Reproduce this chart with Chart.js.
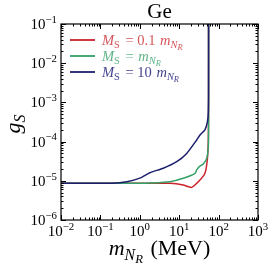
<!DOCTYPE html>
<html lang="en">
<head>
<meta charset="UTF-8">
<title>Ge</title>
<script src="https://cdn.jsdelivr.net/npm/chart.js@4.4.0/dist/chart.umd.min.js"></script>
<style>
  html, body { margin: 0; padding: 0; background: #fff; }
</style>
</head>
<body>
<canvas id="chart" width="272" height="270"></canvas>
<script>
// values (m_NR in MeV, g_S)
const massRed  = [0.01, 1, 1.8, 5.8, 12.7, 20.7, 33.7, 45, 51.6, 54.8, 55.6, 55.6];
const gRed     = [8.7e-6, 8.7e-6, 8.7e-6, 8.6e-6, 7.8e-6, 6.8e-6, 1.05e-5, 1.55e-5, 3.4e-5, 1.1e-4, 1e-3, 1];
const massGreen = [0.01, 1, 1.8, 5.8, 12.7, 25.2, 27.8, 32.4, 40.9, 49.9, 54.8, 55.6, 55.7, 55.7];
const gGreen    = [8.7e-6, 8.7e-6, 8.8e-6, 9.5e-6, 1.16e-5, 1.55e-5, 1.89e-5, 2.3e-5, 2.7e-5, 3.7e-5, 7.4e-5, 1.5e-4, 1e-3, 1];
const massBlue = [0.01, 0.2, 0.47, 1, 1.8, 3.95, 8.65, 15.5, 27.8, 33.7, 45, 52, 54.8, 55.6, 55.6];
const gBlue    = [8.7e-6, 8.7e-6, 9.5e-6, 1.17e-5, 1.61e-5, 2.09e-5, 3.07e-5, 5.0e-5, 1.1e-4, 1.48e-4, 2.0e-4, 3.2e-4, 5.4e-4, 2e-3, 1];

const xExps = [-2, -1, 0, 1, 2, 3];
const yExps = [-6, -5, -4, -3, -2, -1];

const seriesColors = ['#cc2229', '#35a067', '#1c1e6e'];
const labelColors  = ['#d6555a', '#5fb386', '#44448f'];

const SERIF = '"Liberation Serif", "DejaVu Serif", serif';

function pts(xs, ys) {
    return xs.map((x, i) => ({ x: x, y: ys[i] }));
}

// text made of parts: {t, i: italic, l: level (0 base, 1 sub, 2 subsub, -1 sup)}
function fontFor(p, size) {
    let s = size;
    if (p.l === 1 || p.l === -1) s = size * 0.72;
    if (p.l === 2) s = size * 0.58;
    return (p.i ? 'italic ' : '') + s + 'px ' + SERIF;
}
function richWidth(ctx, parts, size) {
    let w = 0;
    parts.forEach(p => {
        ctx.font = fontFor(p, size);
        w += ctx.measureText(p.t).width + (p.gap || 0);
    });
    return w;
}
function drawRich(ctx, parts, x, y, size, align) {
    const w = richWidth(ctx, parts, size);
    let cx = x;
    if (align === 'center') cx = x - w / 2;
    if (align === 'right') cx = x - w;
    ctx.textAlign = 'left';
    ctx.textBaseline = 'alphabetic';
    parts.forEach(p => {
        ctx.font = fontFor(p, size);
        let dy = 0;
        if (p.l === 1) dy = size * 0.22;
        if (p.l === 2) dy = size * 0.36;
        if (p.l === -1) dy = -size * 0.42;
        ctx.fillText(p.t, cx, y + dy);
        cx += ctx.measureText(p.t).width + (p.gap || 0);
    });
}

const axesPlugin = {
    id: 'axesPlugin',
    afterDatasetsDraw(chart) {
        const ctx = chart.ctx;
        const a = chart.chartArea;
        const xs = chart.scales.x;
        const ys = chart.scales.y;
        ctx.save();
        ctx.strokeStyle = '#000';
        ctx.fillStyle = '#000';
        ctx.lineWidth = 1;

        // ticks inward on all four sides
        const major = 5, minor = 2.5;
        function xTick(v, len) {
            const px = Math.round(xs.getPixelForValue(v)) + 0.5;
            ctx.beginPath();
            ctx.moveTo(px, a.bottom); ctx.lineTo(px, a.bottom - len);
            ctx.moveTo(px, a.top); ctx.lineTo(px, a.top + len);
            ctx.stroke();
        }
        function yTick(v, len) {
            const py = Math.round(ys.getPixelForValue(v)) + 0.5;
            ctx.beginPath();
            ctx.moveTo(a.left, py); ctx.lineTo(a.left + len, py);
            ctx.moveTo(a.right, py); ctx.lineTo(a.right - len, py);
            ctx.stroke();
        }
        for (let e = xExps[0]; e < xExps[xExps.length - 1]; e++) {
            for (let k = 2; k <= 9; k++) xTick(k * Math.pow(10, e), minor);
        }
        for (let e = yExps[0]; e < yExps[yExps.length - 1]; e++) {
            for (let k = 2; k <= 9; k++) yTick(k * Math.pow(10, e), minor);
        }
        xExps.forEach(e => xTick(Math.pow(10, e), major));
        yExps.forEach(e => yTick(Math.pow(10, e), major));

        // frame
        ctx.lineWidth = 1.2;
        ctx.strokeRect(a.left, a.top, a.right - a.left, a.bottom - a.top);

        // tick labels
        xExps.forEach(e => {
            const px = xs.getPixelForValue(Math.pow(10, e));
            drawRich(ctx, [{ t: '10' }, { t: (e < 0 ? '\u2212' : '') + Math.abs(e), l: -1 }], px, a.bottom + 16, 15, 'center');
        });
        yExps.forEach(e => {
            const py = ys.getPixelForValue(Math.pow(10, e));
            drawRich(ctx, [{ t: '10' }, { t: (e < 0 ? '\u2212' : '') + Math.abs(e), l: -1 }], a.left - 4, py + 5, 15, 'right');
        });

        // title
        const cx = (a.left + a.right) / 2;
        drawRich(ctx, [{ t: 'Ge' }], cx, 18, 21, 'center');

        // x axis title
        drawRich(ctx, [{ t: 'm', i: true }, { t: 'N', i: true, l: 1 }, { t: 'R', i: true, l: 2, gap: 2 }, { t: ' (MeV)' }],
            cx, 255, 22, 'center');

        // y axis title, rotated
        ctx.save();
        ctx.translate(20, (a.top + a.bottom) / 2 + 2);
        ctx.rotate(-Math.PI / 2);
        drawRich(ctx, [{ t: 'g', i: true }, { t: 'S', i: true, l: 1 }], 0, 0, 22, 'center');
        ctx.restore();

        // legend
        const legendRows = [
            [{ t: 'M', i: true }, { t: 'S', l: 1, gap: 2 }, { t: ' = 0.1 ', gap: 1 }, { t: 'm', i: true }, { t: 'N', i: true, l: 1 }, { t: 'R', i: true, l: 2 }],
            [{ t: 'M', i: true }, { t: 'S', l: 1, gap: 2 }, { t: ' = ', gap: 1 }, { t: 'm', i: true }, { t: 'N', i: true, l: 1 }, { t: 'R', i: true, l: 2 }],
            [{ t: 'M', i: true }, { t: 'S', l: 1, gap: 2 }, { t: ' = 10 ', gap: 1 }, { t: 'm', i: true }, { t: 'N', i: true, l: 1 }, { t: 'R', i: true, l: 2 }]
        ];
        legendRows.forEach((row, i) => {
            const ly = a.top + 16 + i * 16;
            ctx.strokeStyle = seriesColors[i];
            ctx.lineWidth = 1.8;
            ctx.beginPath();
            ctx.moveTo(a.left + 9, ly); ctx.lineTo(a.left + 34, ly);
            ctx.stroke();
            ctx.fillStyle = labelColors[i];
            drawRich(ctx, row, a.left + 41, ly + 4.5, 14.5, 'left');
        });
        ctx.restore();
    }
};

const ctx = document.getElementById('chart').getContext('2d');
const chart = new Chart(ctx, {
    type: 'scatter',
    data: {
        datasets: [
            { label: 'MS = 0.1 mNR', data: pts(massRed, gRed), borderColor: seriesColors[0], order: 3 },
            { label: 'MS = mNR', data: pts(massGreen, gGreen), borderColor: seriesColors[1], order: 2 },
            { label: 'MS = 10 mNR', data: pts(massBlue, gBlue), borderColor: seriesColors[2], order: 1 }
        ].map(d => Object.assign(d, {
            showLine: true, pointRadius: 0, borderWidth: 1.5, tension: 0.2, clip: 0
        }))
    },
    options: {
        responsive: false,
        animation: false,
        layout: { padding: { left: 0, right: 14, top: 24, bottom: 0 } },
        plugins: { legend: { display: false }, tooltip: { enabled: false }, title: { display: false } },
        scales: {
            x: {
                type: 'logarithmic', min: 1e-2, max: 1e3,
                grid: { display: false, drawTicks: false },
                border: { display: false },
                ticks: { display: false },
                afterFit: s => { s.height = 50; }
            },
            y: {
                type: 'logarithmic', min: 1e-6, max: 1e-1,
                grid: { display: false, drawTicks: false },
                border: { display: false },
                ticks: { display: false },
                afterFit: s => { s.width = 61; }
            }
        }
    },
    plugins: [axesPlugin]
});
</script>
</body>
</html>
